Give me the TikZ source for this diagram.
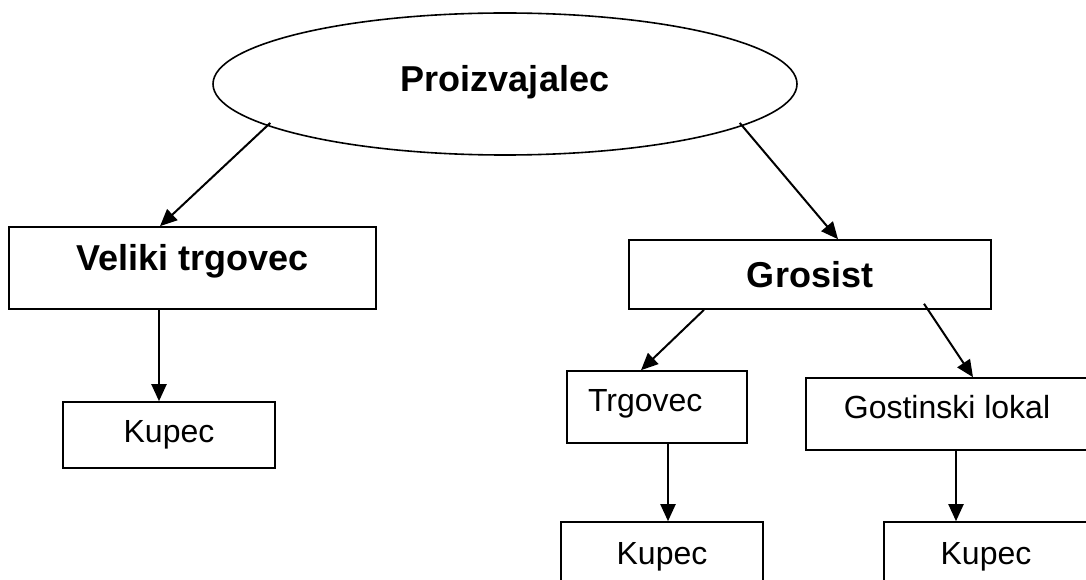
\documentclass[tikz,border=0pt]{standalone}
\usepackage{fontspec}
\setmainfont{Liberation Sans}
\usetikzlibrary{shapes.geometric,arrows.meta}

\begin{document}
\begin{tikzpicture}[x=1pt,y=-1pt,
  box/.style={draw,line width=1.6pt,rectangle,inner sep=0pt,font=\fontsize{32}{38}\selectfont},
  bigbox/.style={box,font=\fontsize{36}{43}\selectfont\bfseries},
  arr/.style={line width=2pt,-{Triangle[length=17pt,width=15pt]}}]

\clip (0,0) rectangle (1086,580);

\node[draw,ellipse,line width=1.6pt,minimum width=584pt,minimum height=142pt,
      font=\fontsize{36}{43}\selectfont\bfseries,text depth=12pt] (prod) at (505,84) {Proizvajalec};

\node[bigbox,minimum width=367pt,minimum height=82pt,text depth=22pt] (velik) at (192.5,268) {Veliki trgovec};
\node[bigbox,minimum width=362pt,minimum height=69pt] (gros) at (810,274.5) {Grosist};

\node[box,minimum width=212pt,minimum height=66pt] (kup1) at (169,435) {Kupec};
\node[box,minimum width=180pt,minimum height=72pt,text width=138pt,align=left,text depth=14pt] (trg) at (657,407) {Trgovec};
\node[box,minimum width=282pt,minimum height=72pt,text depth=14pt] (gost) at (947,414) {Gostinski lokal};
\node[box,minimum width=202pt,minimum height=70pt] (kup2) at (662,557) {Kupec};
\node[box,minimum width=204pt,minimum height=70pt] (kup3) at (986,557) {Kupec};

\draw[arr] ([xshift=3pt,yshift=3pt]prod.190) -- ([xshift=-32.5pt]velik.north);
\draw[arr] ([xshift=-3pt,yshift=3pt]prod.350) -- ([xshift=28pt]gros.north);
\draw[arr] ([xshift=-33.5pt]velik.south) -- ([xshift=-10pt]kup1.north);
\draw[arr] ([xshift=-106pt]gros.south) -- ([xshift=-16pt]trg.north);
\draw[arr] ([xshift=114pt,yshift=6pt]gros.south) -- ([xshift=26pt]gost.north);
\draw[arr] ([xshift=11pt]trg.south) -- ([xshift=6pt]kup2.north);
\draw[arr] ([xshift=9pt]gost.south) -- ([xshift=-30pt]kup3.north);
\end{tikzpicture}
\end{document}
